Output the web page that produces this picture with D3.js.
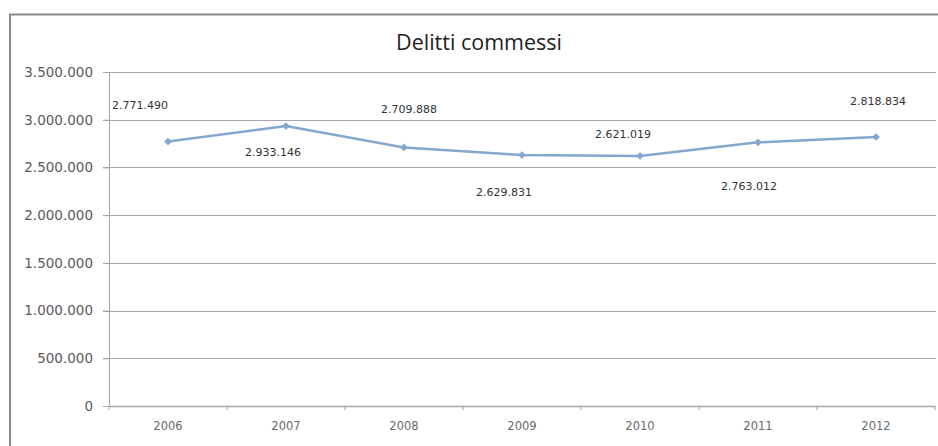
<!DOCTYPE html>
<html>
<head>
<meta charset="utf-8">
<script src="https://cdn.jsdelivr.net/npm/d3@7"></script>
<style>
  body { margin: 0; background: #fff; }
  svg { display: block; }
</style>
</head>
<body>
<div id="chart"></div>
<script>
var years = ["2006", "2007", "2008", "2009", "2010", "2011", "2012"]
var delitti = [2771490, 2933146, 2709888, 2629831, 2621019, 2763012, 2818834]
var yTicks = [0, 500000, 1000000, 1500000, 2000000, 2500000, 3000000, 3500000]

var width = 938, height = 446
var margin = {top: 72, right: 2, bottom: 40, left: 109}

// where the data labels sit relative to their point (dx, dy)
var labelOffset = [[-28, -37], [-13, 26], [5, -38], [-18, 37], [-17, -22], [-9, 44], [2, -36]]

var fmt = function(v) { return d3.format(",")(v).replace(/,/g, ".") }

var svg = d3.select("#chart").append("svg")
  .attr("width", width)
  .attr("height", height)

// outer frame (only left and top visible)
svg.append("path")
  .attr("d", "M10,446 L10,14.5 L938,14.5")
  .attr("fill", "none")
  .attr("stroke", "#8a8a8a")
  .attr("stroke-width", 2)

svg.append("text")
  .attr("x", 479)
  .attr("y", 50)
  .attr("text-anchor", "middle")
  .style("font-family", "'Open Sans', 'Liberation Sans', sans-serif")
  .style("font-size", "21.5px")
  .attr("fill", "#222")
  .text("Delitti commessi")

var g = svg.append("g")
  .attr("transform", "translate(" + margin.left + "," + margin.top + ")")

var w = width - margin.left - margin.right
var h = height - margin.top - margin.bottom

var x = d3.scaleBand().domain(years).range([0, w - 1])
var y = d3.scaleLinear().domain([0, 3500000]).range([h, 0])

// gridlines
g.selectAll(".grid")
  .data(yTicks.slice(1))
  .enter()
  .append("line")
  .attr("class", "grid")
  .attr("x1", -6)
  .attr("x2", w)
  .attr("y1", d => Math.round(y(d)) + 0.5)
  .attr("y2", d => Math.round(y(d)) + 0.5)
  .attr("stroke", "#a6a6a6")
  .attr("stroke-width", 1)

var yAxis = g.append("g")
  .call(d3.axisLeft(y).tickValues(yTicks).tickFormat(fmt).tickSize(6).tickPadding(10))
yAxis.select(".domain").attr("stroke", "#a6a6a6")
yAxis.selectAll(".tick line").attr("stroke", "#a6a6a6")
yAxis.selectAll("text")
  .attr("fill", "#5a5a5a")
  .style("font-family", "'DejaVu Sans', sans-serif")
  .style("font-size", "13.5px")

var xAxis = g.append("g")
  .attr("transform", "translate(0," + h + ")")
  .call(d3.axisBottom(x).tickSize(0).tickPadding(16))
xAxis.select(".domain").attr("stroke", "#a6a6a6").attr("stroke-width", 1.5)
xAxis.selectAll("text")
  .attr("fill", "#6a6a6a")
  .style("font-family", "'DejaVu Sans', sans-serif")
  .style("font-size", "11.5px")

// category boundary ticks
g.selectAll(".xtick")
  .data(years.concat(["end"]))
  .enter()
  .append("line")
  .attr("x1", (d, i) => x.step() * i)
  .attr("x2", (d, i) => x.step() * i)
  .attr("y1", h)
  .attr("y2", h + 4)
  .attr("stroke", "#a6a6a6")

var line = d3.line()
  .x((d, i) => x(years[i]) + x.bandwidth() / 2)
  .y(d => y(d))

g.append("path")
  .datum(delitti)
  .attr("d", line)
  .attr("fill", "none")
  .attr("stroke", "#84a7cf")
  .attr("stroke-width", 2.5)

g.selectAll(".pt")
  .data(delitti)
  .enter()
  .append("path")
  .attr("class", "pt")
  .attr("d", d3.symbol().type(d3.symbolSquare).size(30))
  .attr("transform", (d, i) => "translate(" + (x(years[i]) + x.bandwidth() / 2) + "," + y(d) + ") rotate(45)")
  .attr("fill", "#84a7cf")

g.selectAll(".lbl")
  .data(delitti)
  .enter()
  .append("text")
  .attr("class", "lbl")
  .attr("x", (d, i) => x(years[i]) + x.bandwidth() / 2 + labelOffset[i][0])
  .attr("y", (d, i) => y(d) + labelOffset[i][1] + 4)
  .attr("text-anchor", "middle")
  .attr("fill", "#333")
  .style("font-family", "'DejaVu Sans', sans-serif")
  .style("font-size", "11px")
  .text(d => fmt(d))
</script>
</body>
</html>
